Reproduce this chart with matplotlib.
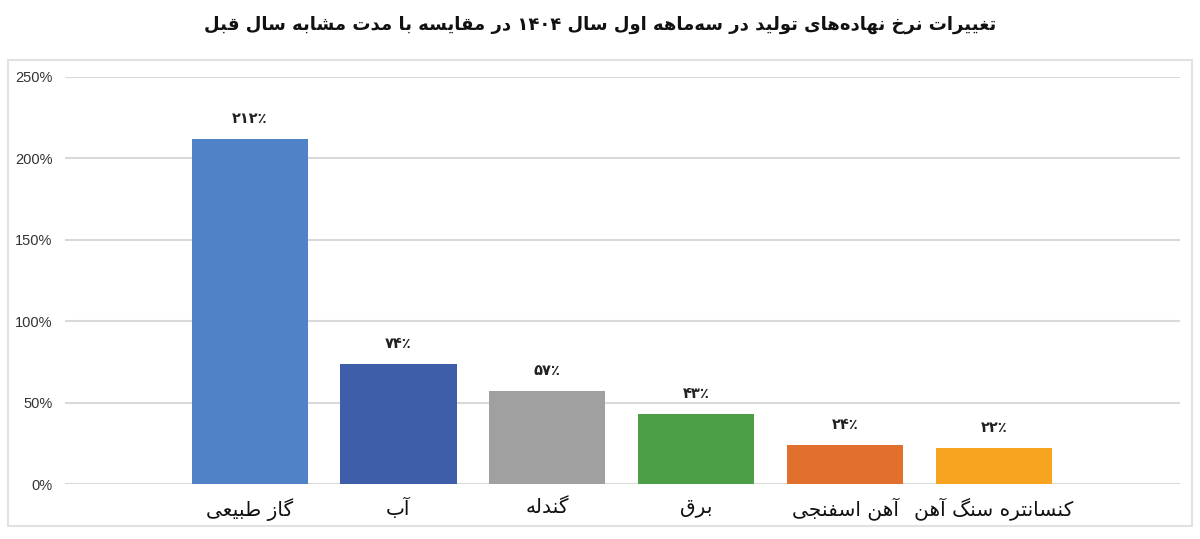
import re
import matplotlib
matplotlib.use("Agg")
import matplotlib.pyplot as plt
from matplotlib.patches import Rectangle

# data
categories = ["گاز طبیعی", "آب", "گندله", "برق", "آهن اسفنجی", "کنسانتره سنگ آهن"]
values = [212, 74, 57, 43, 24, 22]
value_labels = ["۲۱۲٪", "۷۴٪", "۵۷٪", "۴۳٪", "۲۴٪", "۲۲٪"]
colors = ["#4f82c6", "#3f5ea9", "#a0a0a0", "#4c9f47", "#e1702d", "#f7a521"]
yticks = [0, 50, 100, 150, 200, 250]
title = "تغییرات نرخ نهاده‌های تولید در سه‌ماهه اول سال ۱۴۰۴ در مقایسه با مدت مشابه سال قبل"

# minimal persian shaping (isolated, final, initial, medial)
FORMS = {
    'ا': ('\uFE8D', '\uFE8E', None, None),
    'آ': ('\uFE81', '\uFE82', None, None),
    'ب': ('\uFE8F', '\uFE90', '\uFE91', '\uFE92'),
    'ت': ('\uFE95', '\uFE96', '\uFE97', '\uFE98'),
    'ج': ('\uFE9D', '\uFE9E', '\uFE9F', '\uFEA0'),
    'خ': ('\uFEA5', '\uFEA6', '\uFEA7', '\uFEA8'),
    'د': ('\uFEA9', '\uFEAA', None, None),
    'ر': ('\uFEAD', '\uFEAE', None, None),
    'ز': ('\uFEAF', '\uFEB0', None, None),
    'س': ('\uFEB1', '\uFEB2', '\uFEB3', '\uFEB4'),
    'ش': ('\uFEB5', '\uFEB6', '\uFEB7', '\uFEB8'),
    'ط': ('\uFEC1', '\uFEC2', '\uFEC3', '\uFEC4'),
    'ع': ('\uFEC9', '\uFECA', '\uFECB', '\uFECC'),
    'غ': ('\uFECD', '\uFECE', '\uFECF', '\uFED0'),
    'ف': ('\uFED1', '\uFED2', '\uFED3', '\uFED4'),
    'ق': ('\uFED5', '\uFED6', '\uFED7', '\uFED8'),
    'ک': ('\uFB8E', '\uFB8F', '\uFB90', '\uFB91'),
    'گ': ('\uFB92', '\uFB93', '\uFB94', '\uFB95'),
    'ل': ('\uFEDD', '\uFEDE', '\uFEDF', '\uFEE0'),
    'م': ('\uFEE1', '\uFEE2', '\uFEE3', '\uFEE4'),
    'ن': ('\uFEE5', '\uFEE6', '\uFEE7', '\uFEE8'),
    'ه': ('\uFEE9', '\uFEEA', '\uFEEB', '\uFEEC'),
    'و': ('\uFEED', '\uFEEE', None, None),
    'ی': ('\uFBFC', '\uFBFD', '\uFBFE', '\uFBFF'),
}


def shape(text):
    out = []
    for i, c in enumerate(text):
        if c not in FORMS:
            out.append(c)
            continue
        iso, fin, ini, med = FORMS[c]
        prev = text[i - 1] if i > 0 else None
        nxt = text[i + 1] if i + 1 < len(text) else None
        jp = prev in FORMS and FORMS[prev][2] is not None
        jn = nxt in FORMS and ini is not None
        if jp and jn:
            out.append(med)
        elif jp:
            out.append(fin)
        elif jn:
            out.append(ini)
        else:
            out.append(iso)
    s = ''.join(out).replace('\u200c', '')
    runs = re.findall(r'[۰-۹0-9]+|[^۰-۹0-9]', s)
    return ''.join(runs[::-1])


plt.rcParams['font.family'] = ['DejaVu Sans']

fig = plt.figure(figsize=(12, 5.39), dpi=100)
fig.patches.append(Rectangle((8 / 1200, 1 - 526 / 539), 1184 / 1200, 466 / 539,
                             transform=fig.transFigure, fill=False,
                             edgecolor="#e2e2e2", lw=1.5))
ax = fig.add_axes([65 / 1200, 1 - 484 / 539, 1115 / 1200, 407 / 539])

x = list(range(len(categories)))
ax.bar(x, values, width=0.78, color=colors, zorder=3)
for xi, v, lab in zip(x, values, value_labels):
    ax.text(xi, v + 8, lab, ha="center", va="bottom", fontsize=10.5,
            fontweight="bold", color="#222222")

ax.set_ylim(0, 250)
ax.set_xlim(-1.24, 6.25)
ax.set_yticks(yticks)
ax.set_yticklabels([f"{t}%" for t in yticks], fontsize=10.5, color="#333333",
                   family=["Liberation Sans", "DejaVu Sans"])
ax.set_xticks(x)
ax.set_xticklabels([shape(c) for c in categories], fontsize=14.5, color="#111111")
ax.tick_params(axis="both", length=0)
ax.tick_params(axis="y", pad=9)
ax.tick_params(axis="x", pad=10)
ax.grid(axis="y", color="#d9d9d9", lw=1.5, zorder=0)
for s in ax.spines.values():
    s.set_visible(False)

fig.text(0.5, 1 - 25 / 539, shape(title), ha="center", va="center",
         fontsize=13, fontweight="bold", color="#111111")

fig.savefig("out.png", dpi=100, facecolor="white")
